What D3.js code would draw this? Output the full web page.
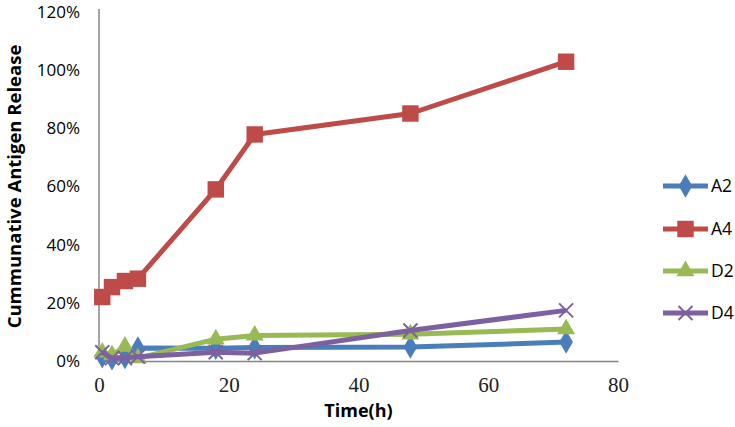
<!DOCTYPE html>
<html><head><meta charset="utf-8">
<script src="https://cdn.jsdelivr.net/npm/d3@7"></script>
<style>body{margin:0;background:#fff}svg{display:block}</style>
</head><body>
<svg id="c" width="735" height="427"></svg>
<script>
const times = [0.5, 2, 4, 6, 18, 24, 48, 72];
const seriesNames = ["A2", "A4", "D2", "D4"];
const A2 = [0.015, 0.008, 0.012, 0.045, 0.044, 0.046, 0.048, 0.065];
const A4 = [0.22, 0.254, 0.275, 0.283, 0.59, 0.779, 0.851, 1.029];
const D2 = [0.03, 0.02, 0.05, 0.01, 0.075, 0.088, 0.092, 0.11];
const D4 = [0.03, 0.01, 0.01, 0.015, 0.03, 0.027, 0.105, 0.174];
const xTicks = [0, 20, 40, 60, 80];
const yTicks = [0, 0.2, 0.4, 0.6, 0.8, 1.0, 1.2];
const colors = ["#4A7EBB", "#BE4B48", "#98B954", "#7D60A0"];
const symbols = [d3.symbolDiamond, d3.symbolSquare, d3.symbolTriangle, d3.symbolCross];

const svg = d3.select("#c");
const x = d3.scaleLinear().domain([0, 80]).range([99, 618]);
const y = d3.scaleLinear().domain([0, 1.2]).range([361, 12]);

// axes
const xAxis = svg.append("g").attr("transform", `translate(0,${y(0)})`)
  .call(d3.axisBottom(x).tickValues(xTicks).tickSize(0).tickPadding(16).tickFormat(d3.format("d")));
xAxis.select(".domain").attr("stroke", "#868686").attr("stroke-width", 1.5);
xAxis.selectAll("text").attr("font-family", "Liberation Serif, serif").attr("font-size", 21).attr("fill", "#222");

const yAxis = svg.append("g").attr("transform", `translate(${x(0)},0)`)
  .call(d3.axisLeft(y).tickValues(yTicks).tickSize(0).tickPadding(19).tickFormat(d3.format(".0%")));
yAxis.select(".domain").attr("stroke", "#868686").attr("stroke-width", 1.5).attr("d", `M0,${y(0)}V9`);
yAxis.selectAll("text").attr("font-family", "Open Sans, sans-serif").attr("font-size", 17).attr("fill", "#000");

// titles
svg.append("text").attr("x", (x(0) + x(80)) / 2).attr("y", 417).attr("text-anchor", "middle")
  .attr("font-family", "Open Sans, sans-serif").attr("font-weight", "bold").attr("font-size", 18).text("Time(h)");
svg.append("text").attr("transform", `translate(21,${(y(0) + y(1.2)) / 2}) rotate(-90)`).attr("text-anchor", "middle")
  .attr("font-family", "Open Sans, sans-serif").attr("font-weight", "bold").attr("font-size", 18.5).text("Cummunative Antigen Release");

const data = [A2, A4, D2, D4];
const line = d3.line().x((d, i) => x(times[i])).y(d => y(d));
const markerSize = [160, 270, 140, 0];

function drawMarker(g, k, cx, cy) {
  if (k === 3) {
    const s = 7;
    g.append("path").attr("d", `M${cx - s},${cy - s}L${cx + s},${cy + s}M${cx - s},${cy + s}L${cx + s},${cy - s}`)
      .attr("stroke", colors[k]).attr("stroke-width", 2).attr("fill", "none");
  } else {
    g.append("path").attr("d", d3.symbol().type(symbols[k]).size(markerSize[k])())
      .attr("transform", `translate(${cx},${cy})`).attr("fill", colors[k]);
  }
}

data.forEach((vals, k) => {
  const g = svg.append("g");
  g.append("path").datum(vals).attr("d", line).attr("fill", "none")
    .attr("stroke", colors[k]).attr("stroke-width", 5).attr("stroke-linejoin", "round");
  vals.forEach((v, i) => drawMarker(g, k, x(times[i]), y(v)));
});

// legend
const legY = [186, 229, 271, 313];
seriesNames.forEach((name, k) => {
  const g = svg.append("g");
  g.append("line").attr("x1", 663).attr("x2", 708).attr("y1", legY[k]).attr("y2", legY[k])
    .attr("stroke", colors[k]).attr("stroke-width", 5);
  drawMarker(g, k, 685.5, legY[k]);
  g.append("text").attr("x", 711).attr("y", legY[k]).attr("dy", "0.36em")
    .attr("font-family", "Open Sans, sans-serif").attr("font-size", 17.5).text(name);
});
</script>
</body></html>
